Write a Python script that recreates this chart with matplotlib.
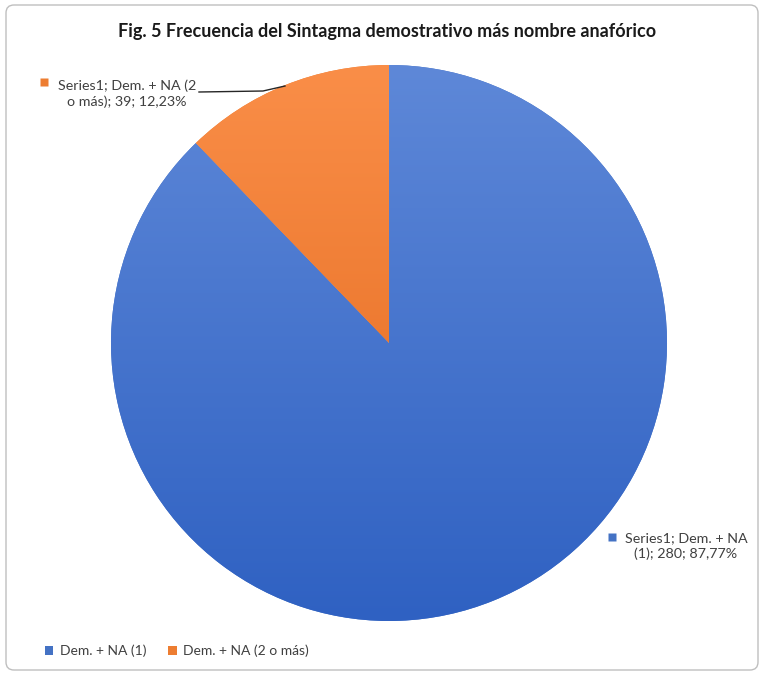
import numpy as np
import matplotlib
matplotlib.use("Agg")
import matplotlib.pyplot as plt
from matplotlib.colors import LinearSegmentedColormap
from matplotlib.patches import FancyBboxPatch, Patch

# datos de la serie
serie = "Series1"
categorias = ["Dem. + NA (1)", "Dem. + NA (2 o más)"]
frecuencias = [280, 39]
titulo = "Fig. 5 Frecuencia del Sintagma demostrativo más nombre anafórico"

# degradados (abajo -> arriba) para cada sector
degradados = [("#2F61C2", "#5E88D8"), ("#E0661A", "#FA8E48")]
color_legenda = ["#4472C4", "#ED7D31"]
gris_texto = "#404040"

plt.rcParams["font.family"] = ["Lato", "DejaVu Sans"]

W, H = 764, 675
fig = plt.figure(figsize=(W / 100, H / 100), dpi=100)
ax = fig.add_axes([0, 0, 1, 1])

cx, cy, r = 389, H - 343, 278
wedges, _ = ax.pie(frecuencias, startangle=90, counterclock=False,
                   center=(cx, cy), radius=r, colors=color_legenda,
                   wedgeprops=dict(linewidth=0))

# relleno en degradado vertical recortado a cada sector
grad = np.linspace(0, 1, 256).reshape(-1, 1)
for w, (c0, c1) in zip(wedges, degradados):
    cmap = LinearSegmentedColormap.from_list("g", [c0, c1])
    im = ax.imshow(grad, cmap=cmap, origin="lower", aspect="auto",
                   extent=(cx - r, cx + r, cy - r, cy + r), zorder=2)
    im.set_clip_path(w)

ax.set_xlim(0, W)
ax.set_ylim(0, H)
ax.set_aspect("equal")
ax.axis("off")

# etiquetas de datos: serie; categoría; valor; porcentaje
total = sum(frecuencias)
pcts = [f"{v / total * 100:.2f}".replace(".", ",") + "%" for v in frecuencias]
etiquetas = [
    f"{serie}; Dem. + NA\n(1); {frecuencias[0]}; {pcts[0]}",
    f"{serie}; Dem. + NA (2\no más); {frecuencias[1]}; {pcts[1]}",
]
pos_texto = [(686, H - 546), (127, H - 94)]
pos_marca = [(612, H - 537), (44, H - 82)]
for txt, (tx, ty), (mx, my), col in zip(etiquetas, pos_texto, pos_marca, color_legenda):
    ax.text(tx, ty, txt, ha="center", va="center", multialignment="center",
            fontsize=10.3, color=gris_texto, linespacing=1.3, zorder=5)
    ax.plot(mx, my, marker="s", ms=5.5, color=col, mec="none", zorder=5)

# línea guía de la etiqueta naranja
ax.plot([199, 263, 285], [H - 92, H - 91, H - 86], color="#262626", lw=1, zorder=5)

fig.text(387 / W, 1 - 31 / H, titulo, ha="center", va="center",
         fontsize=13, fontweight="bold", color="#1a1a1a")

handles = [Patch(facecolor=c, edgecolor="none") for c in color_legenda]
fig.legend(handles, categorias, loc="center left", bbox_to_anchor=(45 / W, 1 - 651 / H),
           ncol=2, frameon=False, fontsize=10, labelcolor=gris_texto,
           handlelength=0.6, handleheight=0.6, handletextpad=0.45,
           columnspacing=1.6, borderaxespad=0, borderpad=0)

# marco del gráfico
marco = FancyBboxPatch((6, 5), W - 12, H - 10, boxstyle="round,pad=0,rounding_size=8",
                       transform=None, fill=False, edgecolor="#BFBFBF", lw=1)
fig.patches.append(marco)

fig.savefig("out.png", dpi=100)
